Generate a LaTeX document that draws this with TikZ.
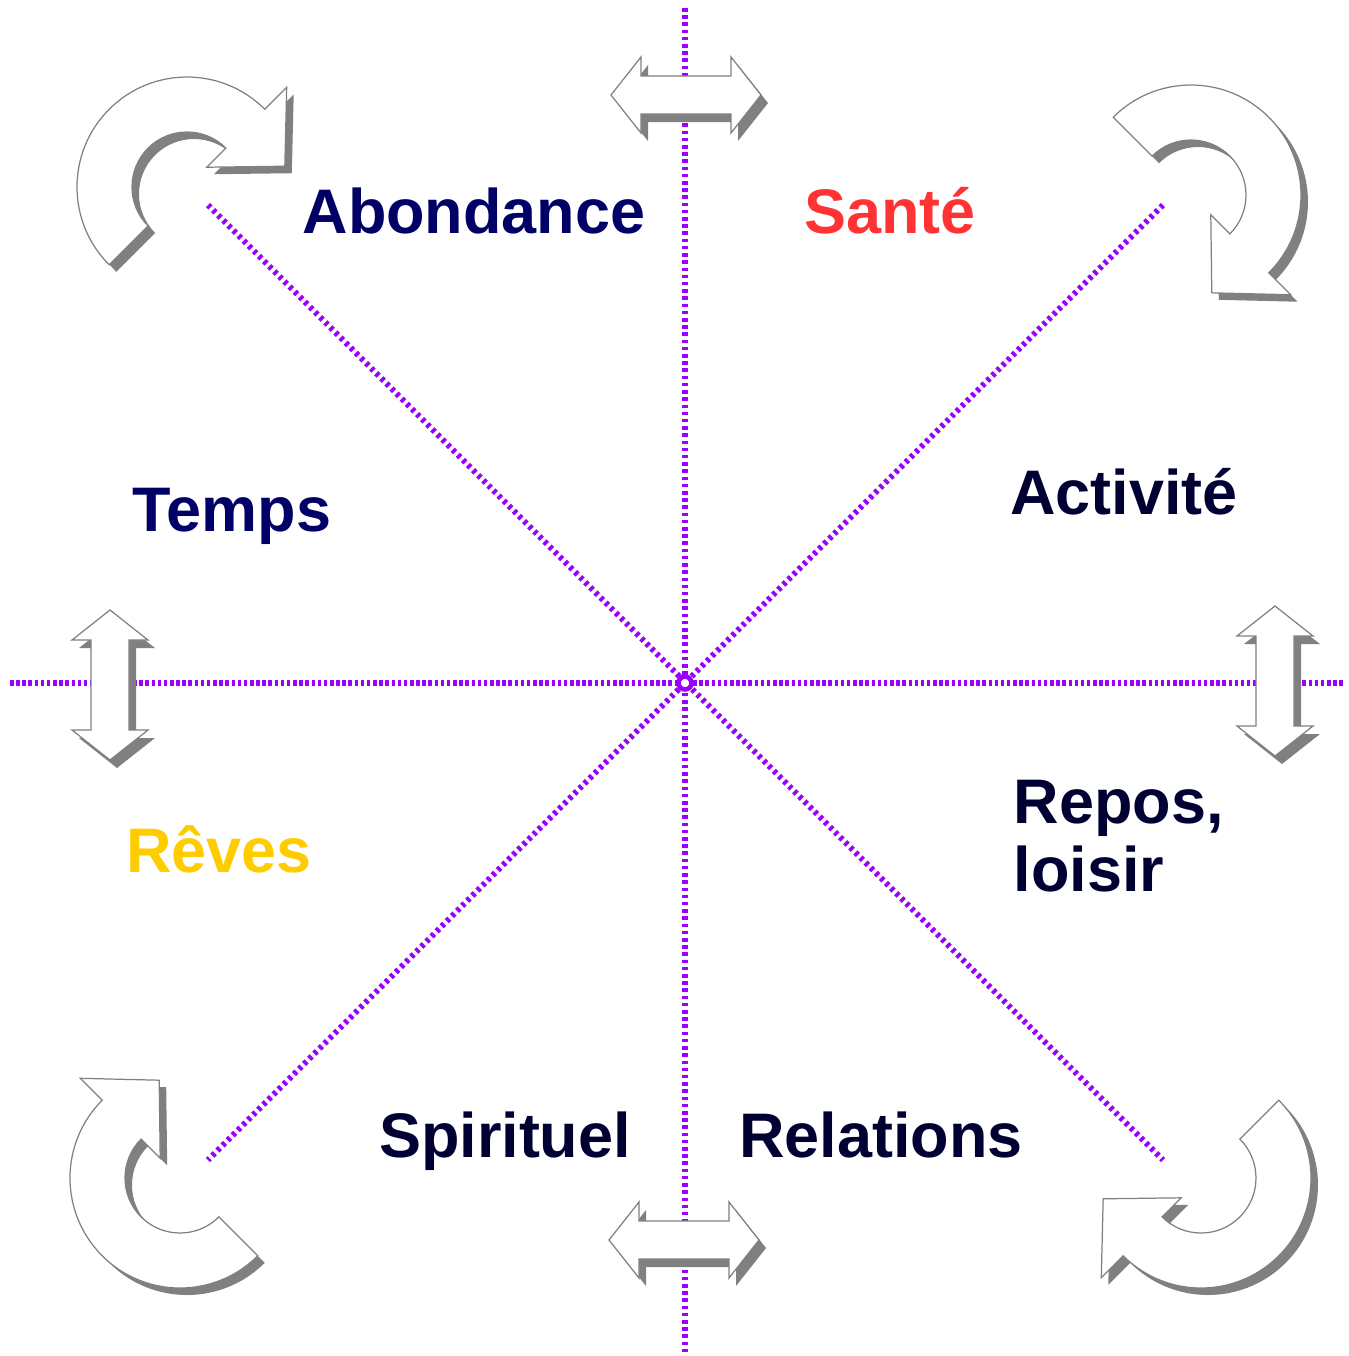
\documentclass[tikz,border=0pt]{standalone}
\usepackage{fontspec}
\setmainfont{Liberation Sans}
\usepackage{tikz}
\definecolor{trait}{HTML}{9900FF}
\definecolor{marine}{HTML}{000066}
\definecolor{nuit}{HTML}{000033}
\definecolor{rouge}{HTML}{FF3333}
\definecolor{jaune}{HTML}{FFCC00}
\definecolor{ombre}{HTML}{808080}
% ring arrow, angles turned by #1
\newcommand{\cheminrond}[1]{(225+#1:55) -- (225+#1:110)
  arc[start angle=225+#1, end angle=405+#1, radius=110]
  -- (45+#1:141) -- (78+#1:100) -- (45+#1:28) -- (45+#1:55)
  arc[start angle=45+#1, end angle=-135+#1, radius=55] -- cycle}
\newcommand{\chemindouble}{(-75,0) -- (-45,-38) -- (-45,-19) -- (45,-19) -- (45,-38)
  -- (75,0) -- (45,38) -- (45,19) -- (-45,19) -- (-45,38) -- cycle}
\newcommand{\flecheronde}[3]{%
  \begin{scope}[shift={(#1,#2)}]
    \fill[ombre, shift={(7,7)}] \cheminrond{#3};
    \filldraw[forme] \cheminrond{#3};
  \end{scope}}
\newcommand{\flechedouble}[3]{%
  \begin{scope}[shift={(#1,#2)}]
    \fill[ombre, shift={(7,8)}, rotate=#3] \chemindouble;
    \filldraw[forme, rotate=#3] \chemindouble;
  \end{scope}}

\begin{document}
\begin{tikzpicture}[x=0.01cm, y=-0.01cm,
    axe/.style={trait, line width=1.7pt, dash pattern=on 1pt off 0.75pt},
    axev/.style={trait, line width=1.7pt, dash pattern=on 1pt off 1.05pt},
    forme/.style={fill=white, draw=ombre, line width=0.35pt, line join=miter},
    etiquette/.style={font=\bfseries\fontsize{17.9}{19.3}\selectfont, inner sep=0pt, anchor=base}]
  \useasboundingbox (0,0) rectangle (1349,1356);
  % axes
  \coordinate (centre) at (685,683);
  \coordinate (nord) at (685,8);
  \coordinate (sud) at (685,1356);
  \coordinate (ouest) at (10,683);
  \coordinate (est) at (1345,683);
  \coordinate (no) at (208,205);
  \coordinate (se) at (1163,1160);
  \coordinate (ne) at (1163,205);
  \coordinate (so) at (208,1160);
  \draw[axev] (nord) -- (sud);
  \draw[axe] (ouest) -- (est);
  \draw[axev] (no) -- (se);
  \draw[axev] (ne) -- (so);
  \filldraw[fill=white, draw=trait, line width=1.3pt] (centre) circle (6.5);
  % double arrows on the axes
  \flechedouble{686}{95}{0}
  \flechedouble{684}{1240}{0}
  \flechedouble{110}{685}{90}
  \flechedouble{1275}{681}{90}
  % ring arrows in the corners
  \flecheronde{187}{187}{-90}
  \flecheronde{1191}{195}{0}
  \flecheronde{180}{1178}{180}
  \flecheronde{1201}{1178}{90}
  % labels
  \node[etiquette, text=marine] (abondance) at (474,233) {Abondance};
  \node[etiquette, text=rouge] (sante) at (890,233) {Santé};
  \node[etiquette, text=marine] (temps) at (232,531) {Temps};
  \node[etiquette, text=nuit] (activite) at (1124,514) {Activité};
  \node[etiquette, text=jaune] (reves) at (219,872) {Rêves};
  \node[etiquette, text=nuit, anchor=west, align=left] (repos) at (1013,836) {Repos,\\loisir};
  \node[etiquette, text=nuit] (spirituel) at (505,1157) {Spirituel};
  \node[etiquette, text=nuit] (relations) at (881,1157) {Relations};
\end{tikzpicture}
\end{document}
